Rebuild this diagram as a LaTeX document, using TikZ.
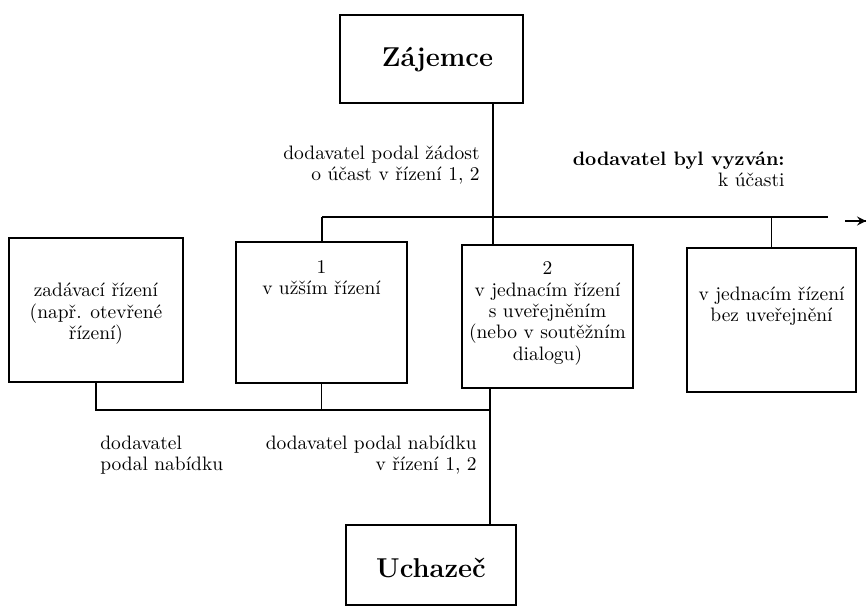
\documentclass[tikz,border=0pt]{standalone}
\usepackage{fontspec}
\usetikzlibrary{calc}
\usetikzlibrary{arrows,decorations.markings}
\tikzset{
    box/.style={draw, line width=0.8pt, inner sep=0pt},
    boxtext/.style={align=center, inner sep=0pt, font=\fontsize{10.7}{11.8}\selectfont},
    title/.style={inner sep=0pt, font=\fontsize{15}{18}\selectfont\bfseries},
    conn/.style={line width=0.8pt, black}
}

\begin{document}
\begin{tikzpicture}[x=0.55pt, y=-0.55pt]
			\useasboundingbox (0,0) rectangle (867,608);

			% boxes
			\node[box, minimum width=100.6pt, minimum height=48.4pt] (zaj) at (431.5,59) {};
			\node[box, minimum width=95.7pt, minimum height=79.2pt] (b0) at (96,310) {};
			\node[box, minimum width=94pt, minimum height=77.6pt] (b1) at (321.5,312.5) {};
			\node[box, minimum width=94pt, minimum height=78.6pt] (b2) at (547.5,316.5) {};
			\node[box, minimum width=93pt, minimum height=79.2pt] (b3) at (771.5,320) {};
			\node[box, minimum width=93.5pt, minimum height=44pt] (uch) at (431,565) {};

			\node[title] (zajt) at ($(zaj)+(6,1)$) {Zájemce};
			\node[title] (ucht) at ($(uch)+(0,3)$) {Uchazeč};

			\node[boxtext] (t0) at ($(b0)+(0,4)$) {zadávací řízení\\(např. otevřené\\řízení)};
			\node[boxtext] (t1) at ($(b1)+(0,-35)$) {1\\v užším řízení};
			\node[boxtext] (t2) at ($(b2)+(0,-3)$) {2\\v jednacím řízení\\s uveřejněním\\(nebo v soutěžním\\dialogu)};
			\node[boxtext] (t3) at ($(b3)+(0,-14)$) {v jednacím řízení\\bez uveřejnění};

			% labels
			\node[boxtext, align=right, anchor=east] (l1) at (480,165) {dodavatel podal žádost\\o účast v řízení 1, 2};
			\node[boxtext, align=right, anchor=east] (l2) at (785,169) {\textbf{dodavatel byl vyzván:}\\k účasti};
			\node[boxtext, align=left, anchor=west] (l3) at (100,455) {dodavatel\\podal nabídku};
			\node[boxtext, align=right, anchor=east] (l4) at (477,455) {dodavatel podal nabídku\\v řízení 1, 2};

			% bars
			\coordinate (tl) at (322,217);
			\coordinate (tz) at (493,217);
			\coordinate (tr) at (828,217);
			\coordinate (bl) at (96,410);
			\coordinate (br) at (490,410);
			\coordinate (a1) at (845,221);
			\coordinate (a2) at (866,221);

			\draw[conn] (zaj.south -| tz) -- (tz);
			\draw[conn] (tl) -- (tr);
			\draw[conn] (tl) -- (b1.north -| tl);
			\draw[conn] (tz) -- (b2.north -| tz);
			\draw[conn] (b3.north |- tr) -- (b3.north);
			\draw[conn,decoration={markings,mark=at position 1 with {\arrow[scale=1.2,>=stealth]{>}}},postaction={decorate}] (a1) -- (a2);

			\draw[conn] (b0.south) -- (bl) -- (br);
			\draw[conn] (b1.south) -- (b1.south |- br);
			\draw[conn] (b2.south -| br) -- (uch.north -| br);

		\end{tikzpicture}
\end{document}
